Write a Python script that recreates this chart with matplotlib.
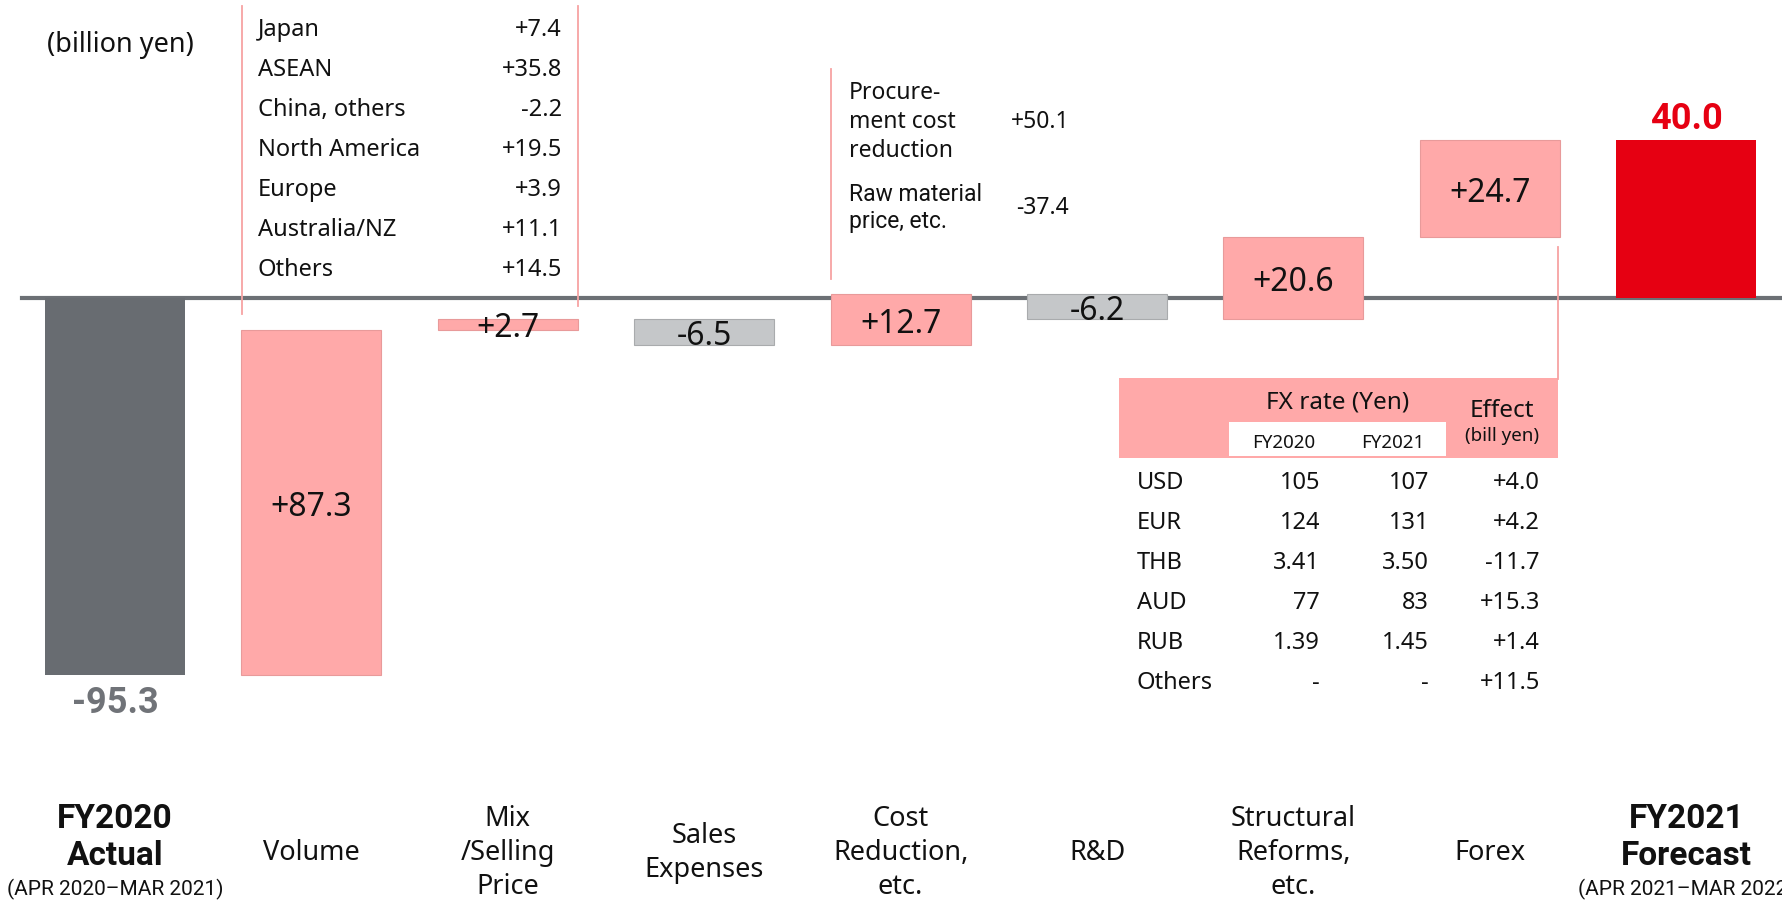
import matplotlib
matplotlib.use("Agg")
import matplotlib.pyplot as plt
from matplotlib import font_manager as fm
from matplotlib.patches import Rectangle

# ---------------- data ----------------
categories = ["FY2020\nActual", "Volume", "Mix\n/Selling\nPrice", "Sales\nExpenses",
              "Cost\nReduction,\netc.", "R&D", "Structural\nReforms,\netc.", "Forex",
              "FY2021\nForecast"]
period_labels = ["(APR 2020\u2013MAR 2021)", "(APR 2021\u2013MAR 2022)"]
start_value = -95.3
deltas = [87.3, 2.7, -6.5, 12.7, -6.2, 20.6, 24.7]
end_value = 40.0

volume_regions = ["Japan", "ASEAN", "China, others", "North America", "Europe", "Australia/NZ", "Others"]
volume_values = ["+7.4", "+35.8", "-2.2", "+19.5", "+3.9", "+11.1", "+14.5"]

cost_items = ["Procure-\nment cost\nreduction", "Raw material\nprice, etc."]
cost_values = ["+50.1", "-37.4"]

fx_currency = ["USD", "EUR", "THB", "AUD", "RUB", "Others"]
fx_fy2020 = ["105", "124", "3.41", "77", "1.39", "-"]
fx_fy2021 = ["107", "131", "3.50", "83", "1.45", "-"]
fx_effect = ["+4.0", "+4.2", "-11.7", "+15.3", "+1.4", "+11.5"]

# ---------------- style ----------------
W, H = 1783, 903
DARK = "#686c71"
PINK = "#ffa9a9"
LGRAY = "#c5c7c9"
RED = "#e60012"
LINE = "#6c7075"
PLINE = "#f7a3a3"
TXT = "#111111"

names = {f.name for f in fm.fontManager.ttflist}
FONT = "Noto Sans" if "Noto Sans" in names else "DejaVu Sans"
BOLD = "Roboto" if "Roboto" in names else FONT
NARROW = "Liberation Sans Narrow" if "Liberation Sans Narrow" in names else "Roboto"
plt.rcParams["font.family"] = [FONT, "DejaVu Sans"]

fig = plt.figure(figsize=(W / 100, H / 100), dpi=100)
ax = fig.add_axes([0, 0, 1, 1])
ax.set_axis_off()

# category centres at 115 + 196.4*i px, zero at y=299 px, 3.96 px/unit
ppu = 3.96
ax.set_xlim(-115 / 196.4, (W - 115) / 196.4)
ax.set_ylim(-(H - 299) / ppu, 299 / ppu)


def P(x, y):
    return x / W, 1 - y / H


def py(ypx):
    return -(ypx - 299) / ppu


# ---------------- waterfall ----------------
n = len(categories)
width = 0.713
ax.axhline(0, xmin=22 / W, xmax=1.0, color=LINE, lw=3, zorder=1)

ax.bar(0, start_value, width=width, color=DARK, zorder=2)
ax.text(0, py(703), f"{start_value:.1f}", ha="center", va="center",
        fontsize=26, fontweight="bold", family=[BOLD, "DejaVu Sans"], color="#707378")

running = start_value
for i, d in enumerate(deltas, start=1):
    bottom = running if d > 0 else running + d
    col = PINK if d > 0 else LGRAY
    ec = "#e89a9a" if d > 0 else "#a9abad"
    ax.bar(i, abs(d), bottom=bottom, width=width, color=col, edgecolor=ec, lw=0.8, zorder=2)
    ax.text(i, bottom + abs(d) / 2 - 0.9, f"{d:+.1f}", ha="center", va="center",
            fontsize=23, color=TXT, zorder=3)
    running += d

ax.bar(n - 1, end_value, width=width, color=RED, zorder=2)
ax.text(n - 1, py(119), f"{end_value:.1f}", ha="center", va="center",
        fontsize=26, fontweight="bold", family=[BOLD, "DejaVu Sans"], color=RED)

# ---------------- category labels ----------------
for i, lab in enumerate(categories):
    if i in (0, n - 1):
        ax.text(i, py(838), lab, ha="center", va="center", fontsize=24,
                fontweight="bold", family=[BOLD, "DejaVu Sans"], linespacing=1.2, color=TXT)
        ax.text(i, py(889), period_labels[0 if i == 0 else 1], ha="center",
                va="center", fontsize=15, family=[NARROW, "DejaVu Sans"], color=TXT)
    else:
        ax.text(i, py(853), lab, ha="center", va="center", fontsize=19.5,
                linespacing=1.3, color=TXT)

fig.text(*P(120, 45), "(billion yen)", ha="center", va="center", fontsize=19.5, color=TXT)

# ---------------- volume breakdown ----------------
fig.add_artist(plt.Line2D([242 / W, 242 / W], [1 - 7 / H, 1 - 315 / H], color=PLINE, lw=1.3))
fig.add_artist(plt.Line2D([578 / W, 578 / W], [1 - 7 / H, 1 - 307 / H], color=PLINE, lw=1.3))
for k, (r, v) in enumerate(zip(volume_regions, volume_values)):
    y = 30 + 40 * k
    fig.text(*P(258, y), r, ha="left", va="center", fontsize=17, color=TXT)
    fig.text(*P(562, y), v, ha="right", va="center", fontsize=17, color=TXT)

# ---------------- cost reduction breakdown ----------------
fig.add_artist(plt.Line2D([831 / W, 831 / W], [1 - 70 / H, 1 - 280 / H], color=PLINE, lw=1.3))
fig.text(*P(849, 122), cost_items[0], ha="left", va="center", fontsize=16.5,
         linespacing=1.3, color=TXT)
fig.text(*P(1069, 122), cost_values[0], ha="right", va="center", fontsize=16.5, color=TXT)
fig.text(*P(849, 208), cost_items[1], ha="left", va="center", fontsize=16.5,
         family=[NARROW, "DejaVu Sans"], linespacing=1.25, color=TXT)
fig.text(*P(1069, 208), cost_values[1], ha="right", va="center", fontsize=16.5, color=TXT)

# ---------------- forex table ----------------
fig.add_artist(plt.Line2D([1558 / W, 1558 / W], [1 - 248 / H, 1 - 380 / H], color=PLINE, lw=1.3))
x0, y0, x1, y1 = 1119, 379, 1558, 459
fig.add_artist(Rectangle(P(x0, y1), (x1 - x0) / W, (y1 - y0) / H, transform=fig.transFigure,
                         facecolor=PINK, edgecolor="none"))
wx0, wy0, wx1, wy1 = 1229, 423, 1446, 457
fig.add_artist(Rectangle(P(wx0, wy1), (wx1 - wx0) / W, (wy1 - wy0) / H, transform=fig.transFigure,
                         facecolor="white", edgecolor="none"))
fig.text(*P(1338, 403), "FX rate (Yen)", ha="center", va="center", fontsize=17.5, color=TXT)
fig.text(*P(1284, 443), "FY2020", ha="center", va="center", fontsize=13.5, color=TXT)
fig.text(*P(1393, 443), "FY2021", ha="center", va="center", fontsize=13.5, color=TXT)
fig.text(*P(1502, 411), "Effect", ha="center", va="center", fontsize=17.5, color=TXT)
fig.text(*P(1502, 436), "(bill yen)", ha="center", va="center", fontsize=13.5, color=TXT)
for k in range(len(fx_currency)):
    y = 483 + 40 * k
    fig.text(*P(1137, y), fx_currency[k], ha="left", va="center", fontsize=17, color=TXT)
    fig.text(*P(1320, y), fx_fy2020[k], ha="right", va="center", fontsize=17, color=TXT)
    fig.text(*P(1429, y), fx_fy2021[k], ha="right", va="center", fontsize=17, color=TXT)
    fig.text(*P(1540, y), fx_effect[k], ha="right", va="center", fontsize=17, color=TXT)

fig.savefig("out.png", dpi=100)
